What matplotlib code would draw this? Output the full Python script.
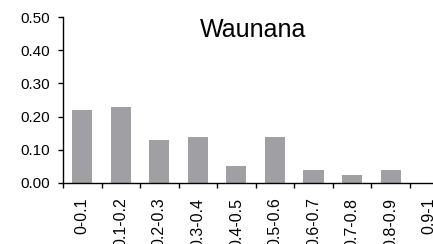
import numpy as np
import matplotlib
matplotlib.use("Agg")
import matplotlib.pyplot as plt

plt.rcParams['font.family'] = ['Liberation Sans', 'DejaVu Sans']

# data
categories = ["0-0.1", "0.1-0.2", "0.2-0.3", "0.3-0.4", "0.4-0.5",
              "0.5-0.6", "0.6-0.7", "0.7-0.8", "0.8-0.9", "0.9-1"]
values = [0.22, 0.23, 0.13, 0.14, 0.05, 0.14, 0.04, 0.025, 0.04, 0.0]
y_ticks = [0.0, 0.1, 0.2, 0.3, 0.4, 0.5]

fig = plt.figure(figsize=(4.33, 2.44), dpi=100)
# axis runs past the right edge, as in the reference
ax = fig.add_axes([0.1455, 0.25, 0.89, 0.68])

x = np.arange(len(categories))
ax.bar(x, values, width=0.52, color="#a0a0a4")

ax.set_xlim(-0.5, len(categories) - 0.5)
ax.set_ylim(0, 0.5)
ax.set_yticks(y_ticks)
ax.set_yticklabels([f"{v:.2f}" for v in y_ticks], fontsize=11)

# tick marks between categories, labels at the centres
ax.set_xticks(np.arange(len(categories) + 1) - 0.5)
ax.set_xticklabels([])
ax.set_xticks(x, minor=True)
ax.set_xticklabels(categories, minor=True, rotation=90, fontsize=11.5, va="top")
ax.tick_params(axis="x", which="major", direction="out", length=3.6, width=1, color="black")
ax.tick_params(axis="x", which="minor", length=0, pad=10.5)
ax.tick_params(axis="y", direction="out", length=3.6, width=1, pad=6)

for s in ["top", "right"]:
    ax.spines[s].set_visible(False)
ax.spines["left"].set_linewidth(1)
ax.spines["bottom"].set_linewidth(1)

ax.text(0.494, 0.92, "Waunana", transform=ax.transAxes, fontsize=18, ha="center", va="center")

fig.savefig("out.png", dpi=100)
